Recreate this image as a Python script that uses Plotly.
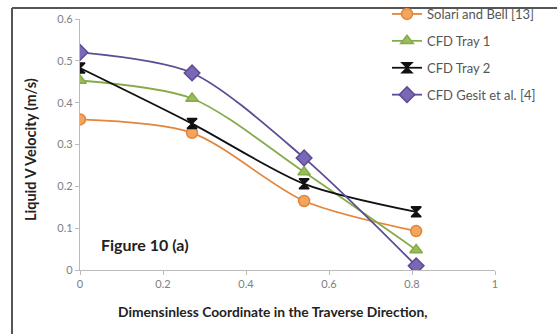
import plotly.graph_objects as go

# Dimensionless traverse coordinate of the measuring stations
x_coord = [0.0, 0.27, 0.54, 0.81]

# Liquid velocity (m/s) for each data set
solari_bell = [0.36, 0.328, 0.165, 0.093]
cfd_tray1 = [0.453, 0.41, 0.234, 0.048]
cfd_tray2 = [0.483, 0.35, 0.206, 0.139]
cfd_gesit = [0.52, 0.471, 0.268, 0.01]

series_names = ["Solari and Bell [13]", "CFD Tray 1", "CFD Tray 2", "CFD Gesit et al. [4]"]
x_ticks = [0, 0.2, 0.4, 0.6, 0.8, 1]
y_ticks = [0, 0.1, 0.2, 0.3, 0.4, 0.5, 0.6]

W, H = 557, 334
L, R, T, B = 80, 62, 19, 64

styles = [
    dict(line="#E3853A", fill="#F2A55E", symbol="circle", size=11),
    dict(line="#86AC4A", fill="#9BBB59", symbol="triangle-up", size=11),
    dict(line="#111111", fill="#111111", symbol="hourglass", size=10),
    dict(line="#5B4C96", fill="#7A68B4", symbol="diamond", size=12),
]

fig = go.Figure()
for name, values, st in zip(series_names, [solari_bell, cfd_tray1, cfd_tray2, cfd_gesit], styles):
    fig.add_trace(go.Scatter(
        x=x_coord, y=values, name=name, mode="lines+markers",
        legendgroup=name,
        line=dict(color=st["line"], width=1.8, shape="spline", smoothing=0.8),
        marker=dict(symbol=st["symbol"], size=st["size"], color=st["fill"],
                    line=dict(color=st["line"], width=1.5)),
    ))

def px_to_paper_x(px):
    return (px - L) / (W - L - R)

def px_to_paper_y(py):
    return (H - B - py) / (H - T - B)

font_family = "Lato, 'Open Sans', sans-serif"

fig.update_layout(
    width=W, height=H,
    margin=dict(l=L, r=R, t=T, b=B, autoexpand=False),
    paper_bgcolor="white", plot_bgcolor="white",
    showlegend=True,
    legend=dict(
        x=px_to_paper_x(387), y=px_to_paper_y(-1), xanchor="left", yanchor="top",
        bgcolor="rgba(0,0,0,0)", font=dict(family=font_family, size=13, color="#555555"),
        tracegroupgap=7, itemwidth=30,
    ),
    xaxis=dict(
        range=[0, 1], tickvals=x_ticks, ticktext=["0", "0.2", "0.4", "0.6", "0.8", "1"],
        showgrid=False, zeroline=False, showline=True, linecolor="#BBBBBB", linewidth=1.2,
        ticks="outside", ticklen=4, tickcolor="#BBBBBB",
        tickfont=dict(family=font_family, size=11, color="#808080"),
    ),
    yaxis=dict(
        range=[0, 0.6], tickvals=y_ticks, ticktext=["0", "0.1", "0.2", "0.3", "0.4", "0.5", "0.6"],
        showgrid=False, zeroline=False, showline=True, linecolor="#BBBBBB", linewidth=1.2,
        ticks="outside", ticklen=4, tickcolor="#BBBBBB",
        tickfont=dict(family=font_family, size=11, color="#808080"),
    ),
    annotations=[
        dict(text="Dimensinless Coordinate in the Traverse Direction,", xref="paper", yref="paper",
             x=px_to_paper_x(272), y=px_to_paper_y(311), xanchor="center", yanchor="middle",
             showarrow=False, font=dict(family=font_family, size=13.8, color="#222222", weight="bold")),
        dict(text="Liquid V Velocity (m/s)", xref="paper", yref="paper", textangle=-90,
             x=px_to_paper_x(30), y=px_to_paper_y(150), xanchor="center", yanchor="middle",
             showarrow=False, font=dict(family=font_family, size=14.5, color="#222222", weight="bold")),
        dict(text="Figure 10 (a)", xref="paper", yref="paper",
             x=px_to_paper_x(99), y=px_to_paper_y(244), xanchor="left", yanchor="middle",
             showarrow=False, font=dict(family=font_family, size=16, color="#222222", weight="bold")),
    ],
    shapes=[
        dict(type="line", xref="paper", yref="paper",
             x0=px_to_paper_x(12), x1=px_to_paper_x(12), y0=px_to_paper_y(8), y1=px_to_paper_y(334),
             line=dict(color="#555555", width=2)),
        dict(type="line", xref="paper", yref="paper",
             x0=px_to_paper_x(12), x1=px_to_paper_x(557), y0=px_to_paper_y(8), y1=px_to_paper_y(8),
             line=dict(color="#555555", width=2)),
    ],
)

fig.write_html("out.html")
